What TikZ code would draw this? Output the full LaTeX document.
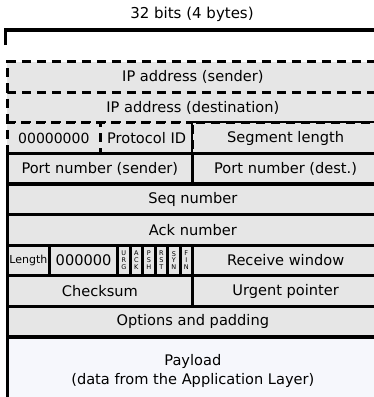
\documentclass[tikz,border=0pt]{standalone}
\usepackage{fontspec}
\setmainfont{DejaVu Sans}
\definecolor{fieldgray}{RGB}{230,230,230}
\definecolor{payloadfill}{RGB}{246,247,252}
\begin{document}
\begin{tikzpicture}[x=1pt,y=-1pt,
  fieldbox/.style={draw=black, line width=3.2pt, fill=fieldgray, inner sep=0pt,
    anchor=north west, font=\fontsize{14.6}{19}\selectfont, align=center},
  dashbox/.style={fieldbox, dash pattern=on 9pt off 6pt},
  flagbox/.style={fieldbox, font=\fontsize{6.5}{6.9}\selectfont,
    minimum width=12.5pt, minimum height=30.6pt},
  bracket/.style={draw=black, line width=3.2pt},
  titletext/.style={font=\fontsize{15}{17}\selectfont}]
\useasboundingbox (0,0) rectangle (374,397);
\clip (0,0) rectangle (374,397);
% bracket and title
\node[titletext] (title) at (192,14) {32 bits (4 bytes)};
\coordinate (bl) at (5.5,45);
\coordinate (br) at (377,45);
\draw[bracket] (bl) |- (191.25,30) -| (br);
% dashed pseudo-header rows
\node[dashbox, minimum width=371.5pt, minimum height=30.6pt] (ipS) at (5.5,60) {IP address (sender)};
\node[dashbox, minimum width=371.5pt, minimum height=30.6pt] (ipD) at (5.5,90.6) {IP address (destination)};
\node[dashbox, minimum width=93.5pt, minimum height=30.6pt, font=\fontsize{14}{17}\selectfont] (zeros) at (5.5,121.2) {00000000};
\node[dashbox, minimum width=92pt, minimum height=30.6pt] (proto) at (99,121.2) {Protocol ID};
\node[dashbox, minimum width=186pt, minimum height=30.6pt] (seglen) at (191,121.2) {Segment length};
% solid rows
\node[fieldbox, minimum width=185.5pt, minimum height=30.6pt] (portS) at (5.5,151.8) {Port number (sender)};
\node[fieldbox, minimum width=186pt, minimum height=30.6pt] (portD) at (191,151.8) {Port number (dest.)};
\node[fieldbox, minimum width=371.5pt, minimum height=30.6pt] (seq) at (5.5,182.4) {Seq number};
\node[fieldbox, minimum width=371.5pt, minimum height=30.6pt] (ack) at (5.5,213) {Ack number};
\node[fieldbox, minimum width=42.5pt, minimum height=30.6pt, font=\fontsize{11}{13}\selectfont] (len) at (5.5,243.6) {Length};
\node[fieldbox, minimum width=68pt, minimum height=30.6pt] (res) at (48,243.6) {000000};
\node[flagbox] (urg) at (116,243.6) {U\\R\\G};
\node[flagbox] (ackf) at (128.5,243.6) {A\\C\\K};
\node[flagbox] (psh) at (141,243.6) {P\\S\\H};
\node[flagbox] (rst) at (153.5,243.6) {R\\S\\T};
\node[flagbox] (syn) at (166,243.6) {S\\Y\\N};
\node[flagbox] (fin) at (178.5,243.6) {F\\I\\N};
\node[fieldbox, minimum width=186pt, minimum height=30.6pt] (recv) at (191,243.6) {Receive window};
\node[fieldbox, minimum width=185.5pt, minimum height=30.6pt] (chk) at (5.5,274.2) {Checksum};
\node[fieldbox, minimum width=186pt, minimum height=30.6pt] (urgp) at (191,274.2) {Urgent pointer};
\node[fieldbox, minimum width=371.5pt, minimum height=30.6pt] (opt) at (5.5,304.8) {Options and padding};
\node[fieldbox, fill=payloadfill, minimum width=371.5pt, minimum height=67pt] (payload) at (5.5,335.4) {Payload\\(data from the Application Layer)};
\end{tikzpicture}
\end{document}
